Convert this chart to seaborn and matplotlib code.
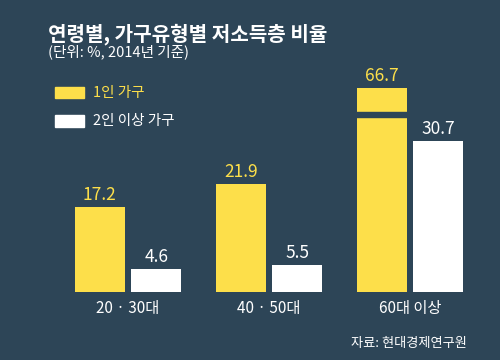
import numpy as np
import pandas as pd
import matplotlib.pyplot as plt
import seaborn as sns
from matplotlib.patches import Rectangle

ages = ["20 · 30대", "40 · 50대", "60대 이상"]
groups = ["1인 가구", "2인 이상 가구"]
single = [17.2, 21.9, 66.7]
multi = [4.6, 5.5, 30.7]

BG = "#2d4557"
YELLOW = "#fddf4a"
WHITE = "#ffffff"

# broken axis: values above 35 are squeezed
BREAK = 35.0
SQUEEZE = 0.2


def shown(v):
    return v if v < BREAK else BREAK + (v - BREAK) * SQUEEZE


df = pd.DataFrame({
    "age": ages * 2,
    "group": [groups[0]] * 3 + [groups[1]] * 3,
    "value": single + multi,
})
df["shown"] = df["value"].apply(shown)

sns.set_theme(style="white")
plt.rcParams["font.family"] = ["Noto Sans CJK KR", "DejaVu Sans"]

fig = plt.figure(figsize=(5, 3.6), dpi=100, facecolor=BG)
ax = fig.add_axes([0, 0, 1, 1])
ax.set_facecolor(BG)

sns.barplot(data=df, x="age", y="shown", hue="group", order=ages, hue_order=groups,
            palette=[YELLOW, WHITE], width=0.8, gap=0.12, saturation=1,
            linewidth=0, legend=False, ax=ax)

ax.set_xlim(-0.908, 2.638)
ax.set_ylim(-13.8, 59.2)
ax.axis("off")

# gap for the broken bar
ax.axhspan(BREAK + 0.4, BREAK + 1.4, color=BG, zorder=2)

# value labels
for cont, col, vals in zip(ax.containers, [YELLOW, WHITE], [single, multi]):
    for bar, v in zip(cont, vals):
        x = bar.get_x() + bar.get_width() / 2
        ax.text(x, bar.get_height() + 0.6, f"{v:.1f}", ha="center", va="bottom",
                color=col, fontsize=12.5, zorder=4)

# category labels
for i, a in enumerate(ages):
    ax.text(i, -3.3, a, ha="center", va="center", color="white", fontsize=11)

fig.text(0.096, 0.905, "연령별, 가구유형별 저소득층 비율", color="white",
         fontsize=14.5, fontweight="bold", va="center")
fig.text(0.096, 0.857, "(단위: %, 2014년 기준)", color="white", fontsize=10.5, va="center")

# legend
fig.patches.append(Rectangle((55 / 500, 1 - 98 / 360), 29 / 500, 11 / 360,
                             transform=fig.transFigure, color=YELLOW))
fig.patches.append(Rectangle((55 / 500, 1 - 127 / 360), 29 / 500, 12 / 360,
                             transform=fig.transFigure, color=WHITE))
fig.text(93 / 500, 1 - 93 / 360, groups[0], color=YELLOW, fontsize=10.5, va="center")
fig.text(93 / 500, 1 - 121 / 360, groups[1], color="white", fontsize=10.5, va="center")

fig.text(467 / 500, 1 - 344 / 360, "자료: 현대경제연구원", color="white", fontsize=9.5,
         ha="right", va="center")

fig.savefig("out.png", dpi=100, facecolor=BG)
